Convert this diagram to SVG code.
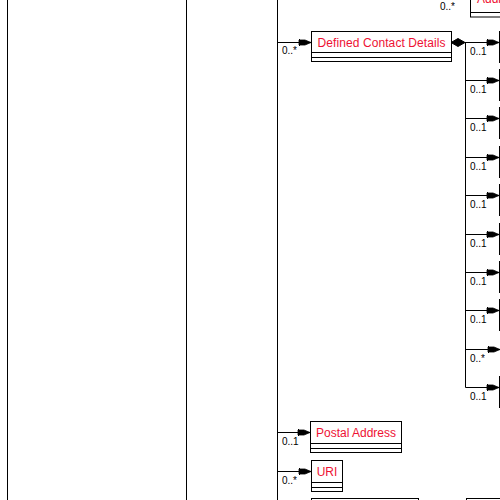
<svg xmlns="http://www.w3.org/2000/svg" width="500" height="500" viewBox="0 0 500 500">
<defs>
<style>
.ln{stroke:#000;stroke-width:1;fill:none}
.box{fill:#fff;stroke:#000;stroke-width:1}
.nm{font-family:"Liberation Sans",Arial,sans-serif;font-size:12px;fill:#ee1133}
.cd{font-family:"Liberation Sans",Arial,sans-serif;font-size:10px;fill:#000}
</style>
<marker id="arr" markerUnits="userSpaceOnUse" markerWidth="14" markerHeight="10" refX="12" refY="5" orient="auto" overflow="visible">
<path d="M0,2.5 L6,2.5 L12,5 L6,7.5 L0,7.5 Z" fill="#000" stroke="#000" stroke-width="0.8"/>
<path d="M0.5,1.5 L0.5,8.5" stroke="#000" stroke-width="1"/>
</marker>
</defs>
<rect width="500" height="500" fill="#fff"/>
<g id="connectors">
<line class="ln" x1="7.5" y1="0" x2="7.5" y2="500"/>
<line class="ln" x1="186.5" y1="0" x2="186.5" y2="500"/>
<line class="ln" x1="277.5" y1="0" x2="277.5" y2="500"/>
<line class="ln" x1="277.5" y1="42.5" x2="311" y2="42.5" marker-end="url(#arr)"/>
<line class="ln" x1="277.5" y1="432.5" x2="310" y2="432.5" marker-end="url(#arr)"/>
<line class="ln" x1="277.5" y1="471.5" x2="311" y2="471.5" marker-end="url(#arr)"/>
<polygon points="451,42.5 458,38.5 465,42.5 458,46.5" fill="#000" stroke="#000" stroke-width="1"/>
<line class="ln" x1="465.5" y1="42.5" x2="465.5" y2="387.5"/>
<line class="ln" x1="465" y1="42.5" x2="499" y2="42.5" marker-end="url(#arr)"/>
<line class="ln" x1="465.5" y1="80.5" x2="499" y2="80.5" marker-end="url(#arr)"/>
<line class="ln" x1="465.5" y1="118.5" x2="499" y2="118.5" marker-end="url(#arr)"/>
<line class="ln" x1="465.5" y1="157.5" x2="499" y2="157.5" marker-end="url(#arr)"/>
<line class="ln" x1="465.5" y1="195.5" x2="499" y2="195.5" marker-end="url(#arr)"/>
<line class="ln" x1="465.5" y1="234.5" x2="499" y2="234.5" marker-end="url(#arr)"/>
<line class="ln" x1="465.5" y1="272.5" x2="499" y2="272.5" marker-end="url(#arr)"/>
<line class="ln" x1="465.5" y1="310.5" x2="499" y2="310.5" marker-end="url(#arr)"/>
<line class="ln" x1="465.5" y1="349.5" x2="500" y2="349.5" marker-end="url(#arr)"/>
<line class="ln" x1="465.5" y1="387.5" x2="499" y2="387.5" marker-end="url(#arr)"/>
<text class="cd" x="282" y="54">0..*</text>
<text class="cd" x="282" y="445">0..1</text>
<text class="cd" x="282" y="484">0..*</text>
<text class="cd" x="440" y="10">0..*</text>
<text class="cd" x="470" y="55">0..1</text>
<text class="cd" x="470" y="93">0..1</text>
<text class="cd" x="470" y="131">0..1</text>
<text class="cd" x="470" y="170">0..1</text>
<text class="cd" x="470" y="208">0..1</text>
<text class="cd" x="470" y="247">0..1</text>
<text class="cd" x="470" y="285">0..1</text>
<text class="cd" x="470" y="323">0..1</text>
<text class="cd" x="470" y="362">0..*</text>
<text class="cd" x="470" y="400">0..1</text>
</g>
<g id="node-top-right">
<rect class="box" x="470.5" y="-20" width="40" height="37"/>
<line class="ln" x1="470.5" y1="12.5" x2="500" y2="12.5"/>
<text class="nm" x="477" y="3">Address</text>
</g>
<g id="node-defined-contact-details">
<rect class="box" x="311.5" y="31.5" width="140" height="30"/>
<line class="ln" x1="311.5" y1="52.5" x2="451.5" y2="52.5"/>
<line class="ln" x1="311.5" y1="57.5" x2="451.5" y2="57.5"/>
<text class="nm" x="381.5" y="47" text-anchor="middle" textLength="128">Defined Contact Details</text>
</g>
<g id="node-right-1"><rect class="box" x="499.5" y="31.5" width="20" height="31"/></g>
<g id="node-right-2"><rect class="box" x="499.5" y="69.5" width="20" height="31"/></g>
<g id="node-right-3"><rect class="box" x="499.5" y="107.5" width="20" height="31"/></g>
<g id="node-right-4"><rect class="box" x="499.5" y="146.5" width="20" height="31"/></g>
<g id="node-right-5"><rect class="box" x="499.5" y="184.5" width="20" height="31"/></g>
<g id="node-right-6"><rect class="box" x="499.5" y="223.5" width="20" height="31"/></g>
<g id="node-right-7"><rect class="box" x="499.5" y="261.5" width="20" height="31"/></g>
<g id="node-right-8"><rect class="box" x="499.5" y="299.5" width="20" height="31"/></g>
<g id="node-right-10"><rect class="box" x="499.5" y="376.5" width="20" height="31"/></g>
<g id="node-postal-address">
<rect class="box" x="310.5" y="421.5" width="91" height="31"/>
<line class="ln" x1="310.5" y1="443.5" x2="401.5" y2="443.5"/>
<line class="ln" x1="310.5" y1="448.5" x2="401.5" y2="448.5"/>
<text class="nm" x="356" y="437" text-anchor="middle">Postal Address</text>
</g>
<g id="node-uri">
<rect class="box" x="311.5" y="460.5" width="31" height="31"/>
<line class="ln" x1="311.5" y1="482.5" x2="342.5" y2="482.5"/>
<line class="ln" x1="311.5" y1="487.5" x2="342.5" y2="487.5"/>
<text class="nm" x="327" y="476" text-anchor="middle">URI</text>
</g>
<g id="node-bottom-1"><rect class="box" x="311.5" y="498.5" width="107" height="20"/></g>
<g id="node-bottom-2"><rect class="box" x="466.5" y="498.5" width="50" height="20"/></g>
</svg>
